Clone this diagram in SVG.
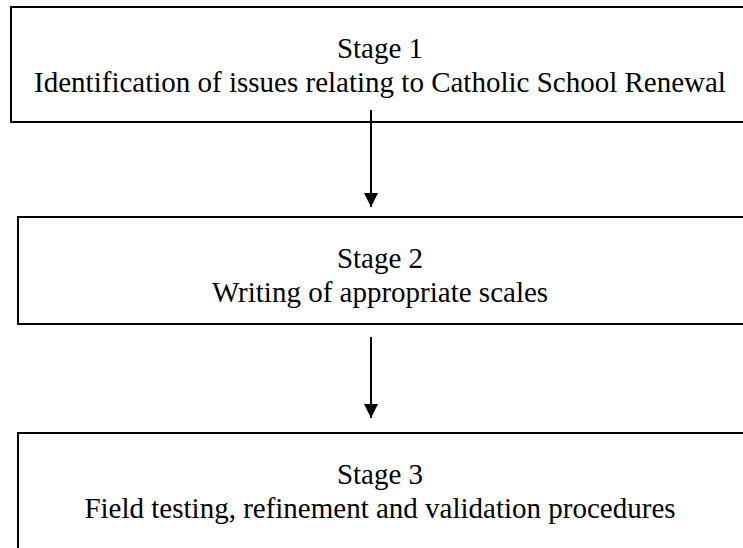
<svg xmlns="http://www.w3.org/2000/svg" width="743" height="548" viewBox="0 0 743 548">
<defs>
<style>
.box{fill:#fff;stroke:#000;stroke-width:2}
.t{font-family:"Liberation Serif","Times New Roman",serif;font-size:29px;fill:#000;text-anchor:middle}
.c{stroke:#000;stroke-width:2;fill:none}
</style>
<marker id="ah" viewBox="0 0 14 14" refX="14" refY="7" markerWidth="14" markerHeight="14" markerUnits="userSpaceOnUse" orient="auto">
<path d="M0,0 L14,7 L0,14 z" fill="#000"/>
</marker>
</defs>
<rect width="743" height="548" fill="#fff"/>
<g id="stage1">
<rect class="box" x="11" y="7" width="760" height="115"/>
<text class="t" x="380" y="58">Stage 1</text>
<text class="t" x="380" y="92">Identification of issues relating to Catholic School Renewal</text>
</g>
<g id="stage2">
<rect class="box" x="18" y="217" width="760" height="107"/>
<text class="t" x="380" y="268">Stage 2</text>
<text class="t" x="380" y="302">Writing of appropriate scales</text>
</g>
<g id="stage3">
<rect class="box" x="18" y="433" width="760" height="130"/>
<text class="t" x="380" y="484">Stage 3</text>
<text class="t" x="380" y="518">Field testing, refinement and validation procedures</text>
</g>
<g id="connectors">
<line class="c" x1="371" y1="110" x2="371" y2="207" marker-end="url(#ah)"/>
<line class="c" x1="371" y1="337" x2="371" y2="418" marker-end="url(#ah)"/>
</g>
</svg>
